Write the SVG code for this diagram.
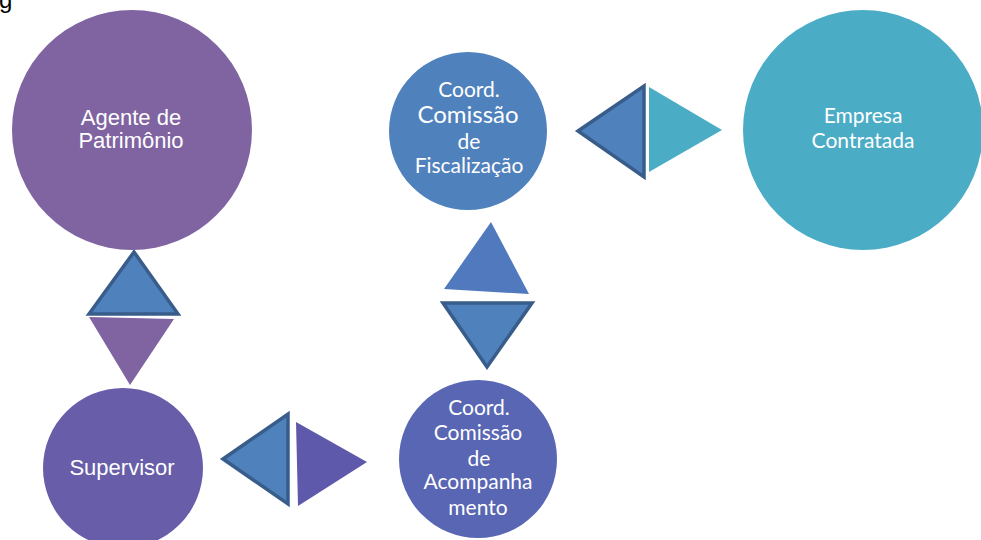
<svg xmlns="http://www.w3.org/2000/svg" width="981" height="540" viewBox="0 0 981 540">
<style>
.lbl{font-family:"Liberation Sans",Arial,sans-serif;font-size:22px;fill:#ffffff;text-anchor:middle}
.cal{font-family:Lato,"Open Sans",sans-serif;font-size:21px;fill:#ffffff;text-anchor:middle}
.big{font-size:24px}
.out{stroke:#385D8A;stroke-width:3.5;stroke-linejoin:miter}
</style>
<rect width="981" height="540" fill="#ffffff"/>
<text x="-1" y="8" font-family="Liberation Sans, Arial, sans-serif" font-size="24" fill="#000000">g</text>
<g id="connectors">
  <polygon class="out" points="134,252 89,314 178,314" fill="#4F81BD"/>
  <polygon points="89,317 174,319 130,385" fill="#8064A2"/>
  <polygon class="out" points="223,459 288,414 288,504" fill="#4F81BD"/>
  <polygon points="296,422 298,506 367,462" fill="#5F59AB"/>
  <polygon points="491,222 444,289 529,294" fill="#5079BE"/>
  <polygon class="out" points="443,303 532,303 487,367" fill="#4F81BD"/>
  <polygon class="out" points="578,131 644,86 644,177" fill="#4F81BD"/>
  <polygon points="649,87 649,172 722,130" fill="#4BACC6"/>
</g>
<g id="agente">
  <circle cx="132" cy="130" r="120" fill="#8064A2"/>
  <text class="lbl" x="131" y="125">Agente de</text>
  <text class="lbl" x="131" y="148">Patrimônio</text>
</g>
<g id="fiscalizacao">
  <circle cx="468" cy="131" r="79" fill="#4F81BD"/>
  <text class="cal" x="469" y="97">Coord.</text>
  <text class="cal big" x="468" y="123">Comissão</text>
  <text class="cal" x="469" y="149">de</text>
  <text class="cal" x="469" y="173">Fiscalização</text>
</g>
<g id="empresa">
  <circle cx="863" cy="130" r="120" fill="#4BACC6"/>
  <text class="cal" x="863" y="123">Empresa</text>
  <text class="cal" x="863" y="148">Contratada</text>
</g>
<g id="supervisor">
  <circle cx="123" cy="468" r="80" fill="#675DA9"/>
  <text class="lbl" x="122" y="475">Supervisor</text>
</g>
<g id="acompanhamento">
  <circle cx="478" cy="459" r="79" fill="#5866B3"/>
  <text class="cal" x="479" y="415">Coord.</text>
  <text class="cal" x="478" y="440">Comissão</text>
  <text class="cal" x="479" y="466">de</text>
  <text class="cal" x="478" y="489">Acompanha</text>
  <text class="cal" x="478" y="515">mento</text>
</g>
</svg>
